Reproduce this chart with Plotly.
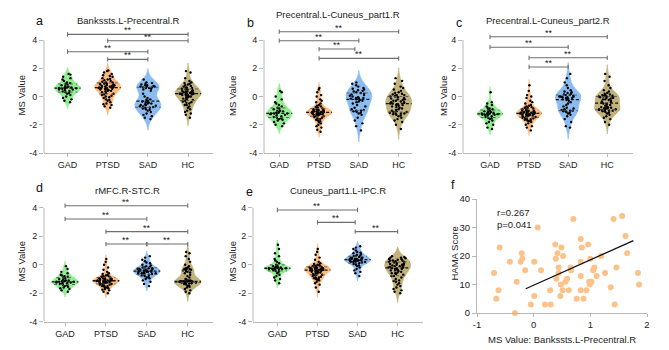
import numpy as np
import plotly.graph_objects as go

W, H = 669, 350
FONT = "Liberation Sans, Arial, sans-serif"

groups = ["GAD", "PTSD", "SAD", "HC"]
group_colors = ["#92EE92", "#FCBA7E", "#8ABCF2", "#C1B37B"]
titles = ["Bankssts.L-Precentral.R", "Precentral.L-Cuneus_part1.R",
          "Precentral.L-Cuneus_part2.R", "rMFC.R-STC.R", "Cuneus_part1.L-IPC.R"]
letters = ["a", "b", "c", "d", "e", "f"]
y_tickvals = [-4, -2, 0, 2, 4]
y_ticktext = ["-4", "-2", "0", "2", "4"]

# ---------------- panel a : Bankssts.L-Precentral.R ----------------
a_gad = [1.6, 1.55, 1.4, 1.3, 1.2, 1.1, 1.0, 0.95, 0.9, 0.85, 0.8, 0.75, 0.7, 0.65, 0.62, 0.6, 0.6,
         0.58, 0.55, 0.5, 0.5, 0.45, 0.4, 0.35, 0.3, 0.25, 0.2, 0.1, 0.0, -0.1, -0.2, -0.3, -0.4, 0.65]
a_ptsd = [1.85, 1.8, 1.7, 1.6, 1.5, 1.45, 1.4, 1.3, 1.25, 1.2, 1.15, 1.1, 1.05, 1.0, 1.0, 0.95, 0.9, 0.9,
          0.85, 0.85, 0.8, 0.8, 0.75, 0.75, 0.7, 0.7, 0.65, 0.65, 0.6, 0.6, 0.55, 0.55, 0.5, 0.5, 0.45, 0.4,
          0.4, 0.35, 0.3, 0.25, 0.2, 0.15, 0.1, 0.05, 0.0, -0.05, -0.1, -0.2, -0.25, -0.3, -0.4, -0.5,
          -0.55, -0.6, -0.7, -0.8, 0.6, 0.7, 0.5, 0.9]
a_sad = [1.2, 1.0, 0.9, 0.85, 0.8, 0.75, 0.7, 0.7, 0.65, 0.6, 0.55, 0.5, 0.4, 0.95, 0.8, 0.7, 0.65, 0.6,
         0.2, 0.0, -0.1, -0.2, -0.25, -0.3, -0.35, -0.4, -0.45, -0.5, -0.5, -0.55, -0.6, -0.6, -0.65,
         -0.7, -0.7, -0.75, -0.8, -0.8, -0.85, -0.9, -0.95, -1.0, -1.1, -1.2, -1.3, -1.4, -1.5, -1.6]
a_hc = [1.8, 1.7, 1.3, 1.1, 1.0, 0.95, 0.9, 0.85, 0.8, 0.75, 0.7, 0.65, 0.6, 0.55, 0.5, 0.5, 0.45, 0.4,
        0.4, 0.35, 0.3, 0.3, 0.25, 0.25, 0.2, 0.2, 0.2, 0.15, 0.15, 0.1, 0.1, 0.05, 0.0, 0.0, -0.05, -0.1,
        -0.15, -0.2, -0.25, -0.3, -0.35, -0.4, -0.45, -0.5, -0.6, -0.7, -0.8, -0.9, -1.0, -1.1, -1.2,
        -1.3, -1.5, 0.2, 0.15, 0.3, 0.6, -0.6]

# ---------------- panel b : Precentral.L-Cuneus_part1.R ----------------
b_gad = [0.4, 0.3, 0.0, -0.2, -0.4, -0.5, -0.6, -0.7, -0.8, -0.85, -0.9, -1.0, -1.05, -1.1, -1.15, -1.2,
         -1.2, -1.2, -1.25, -1.3, -1.35, -1.4, -1.45, -1.5, -1.55, -1.6, -1.65, -1.7, -1.8, -1.9, -2.0,
         -2.1, -1.2, -1.0]
b_ptsd = [0.6, 0.5, 0.3, 0.1, 0.0, -0.2, -0.3, -0.4, -0.5, -0.6, -0.65, -0.7, -0.75, -0.8, -0.85, -0.9,
          -0.9, -0.95, -1.0, -1.0, -1.05, -1.05, -1.1, -1.1, -1.1, -1.15, -1.15, -1.2, -1.2, -1.2, -1.25,
          -1.25, -1.3, -1.3, -1.35, -1.4, -1.4, -1.45, -1.5, -1.55, -1.6, -1.65, -1.7, -1.75, -1.8, -1.9,
          -2.0, -2.1, -2.2, -2.35, -2.5, -1.1, -1.2, -1.0, -0.95, -1.3, -1.15, -1.05, -1.25, -0.85]
b_sad = [1.0, 0.9, 0.8, 0.7, 0.6, 0.55, 0.5, 0.45, 0.4, 0.35, 0.3, 0.25, 0.2, 0.15, 0.1, 0.05, 0.0, -0.05,
         -0.1, -0.1, -0.15, -0.2, -0.25, -0.3, -0.35, -0.4, -0.5, -0.6, -0.7, -0.8, -0.9, -0.95, -1.0,
         -1.0, -1.05, -1.1, -1.15, -1.2, -1.3, -1.5, -1.7, -1.9, -2.1, -2.4, -0.1]
b_hc = [1.3, 1.1, 0.9, 0.7, 0.6, 0.5, 0.4, 0.3, 0.25, 0.2, 0.15, 0.1, 0.05, 0.0, 0.0, -0.05, -0.1, -0.15,
        -0.2, -0.25, -0.3, -0.3, -0.35, -0.4, -0.45, -0.5, -0.5, -0.55, -0.6, -0.65, -0.7, -0.75, -0.8,
        -0.85, -0.9, -0.95, -1.0, -1.05, -1.1, -1.1, -1.15, -1.2, -1.2, -1.25, -1.3, -1.35, -1.4, -1.5,
        -1.6, -1.7, -1.8, -2.0, -2.3, -0.2, -0.4, 0.1, -1.2, -0.6]

# ---------------- panel c : Precentral.L-Cuneus_part2.R ----------------
c_gad = [0.3, -0.4, -0.5, -0.6, -0.7, -0.8, -0.85, -0.9, -0.95, -1.0, -1.05, -1.1, -1.15, -1.2, -1.2,
         -1.25, -1.25, -1.3, -1.3, -1.35, -1.4, -1.45, -1.5, -1.55, -1.6, -1.7, -1.8, -1.9, -2.0, -2.2,
         -2.3, -1.2, -1.1, -1.3]
c_ptsd = [0.8, 0.4, 0.1, 0.0, -0.1, -0.3, -0.4, -0.5, -0.6, -0.65, -0.7, -0.75, -0.8, -0.85, -0.9, -0.95,
          -1.0, -1.0, -1.05, -1.1, -1.1, -1.15, -1.15, -1.2, -1.2, -1.2, -1.25, -1.25, -1.3, -1.3, -1.35,
          -1.4, -1.4, -1.45, -1.5, -1.5, -1.55, -1.6, -1.65, -1.7, -1.75, -1.8, -1.9, -2.0, -2.1, -2.2,
          -2.4, -1.2, -1.1, -1.3, -1.0, -0.9, -1.4, -1.6, -0.8, -1.25, -1.15, -1.05, -1.35, -1.7]
c_sad = [1.6, 1.3, 1.0, 0.8, 0.6, 0.45, 0.35, 0.3, 0.25, 0.2, 0.15, 0.1, 0.05, 0.0, 0.0, -0.05, -0.1,
         -0.1, -0.15, -0.2, -0.25, -0.3, -0.4, -0.5, -0.6, -0.7, -0.8, -0.85, -0.9, -0.95, -1.0, -1.0,
         -1.05, -1.1, -1.15, -1.2, -1.3, -1.4, -1.6, -1.8, -2.1, -2.2, 0.0, -0.05, -1.0, 0.1]
c_hc = [1.6, 1.4, 1.1, 0.8, 0.6, 0.45, 0.35, 0.25, 0.2, 0.15, 0.1, 0.05, 0.0, 0.0, -0.05, -0.1, -0.1,
        -0.15, -0.2, -0.25, -0.3, -0.35, -0.4, -0.45, -0.5, -0.55, -0.6, -0.65, -0.7, -0.75, -0.8, -0.8,
        -0.85, -0.9, -0.9, -0.95, -1.0, -1.0, -1.05, -1.1, -1.15, -1.2, -1.3, -1.4, -1.5, -1.6, -1.8,
        -2.0, 0.0, -0.05, -0.9, -0.85, 0.1, -0.95, -1.0, 0.05, -0.8, -0.2]

# ---------------- panel d : rMFC.R-STC.R ----------------
d_gad = [-0.1, -0.3, -0.5, -0.6, -0.7, -0.75, -0.8, -0.85, -0.9, -0.95, -1.0, -1.05, -1.1, -1.1, -1.15,
         -1.2, -1.2, -1.2, -1.25, -1.25, -1.3, -1.3, -1.35, -1.4, -1.45, -1.5, -1.55, -1.6, -1.65, -1.7,
         -1.8, -1.9, -1.2, -1.15]
d_ptsd = [0.4, 0.2, 0.0, -0.2, -0.35, -0.5, -0.6, -0.65, -0.7, -0.75, -0.8, -0.85, -0.9, -0.9, -0.95,
          -0.95, -1.0, -1.0, -1.0, -1.05, -1.05, -1.1, -1.1, -1.1, -1.1, -1.15, -1.15, -1.15, -1.2, -1.2,
          -1.2, -1.25, -1.25, -1.3, -1.3, -1.35, -1.35, -1.4, -1.45, -1.5, -1.5, -1.55, -1.6, -1.65,
          -1.7, -1.75, -1.8, -1.9, -2.0, -1.1, -1.0, -1.2, -1.05, -1.15, -0.9, -1.3, -1.4, -1.6, -0.8,
          -1.25]
d_sad = [0.6, 0.5, 0.35, 0.25, 0.15, 0.1, 0.0, -0.05, -0.1, -0.15, -0.2, -0.25, -0.25, -0.3, -0.3, -0.35,
         -0.35, -0.4, -0.4, -0.45, -0.45, -0.5, -0.5, -0.55, -0.55, -0.6, -0.6, -0.65, -0.65, -0.7, -0.7,
         -0.75, -0.8, -0.85, -0.9, -0.95, -1.0, -1.1, -1.2, -1.35, -1.5, -0.4, -0.5, -0.3, -0.6, -0.2]
d_hc = [0.9, 0.8, 0.6, 0.4, 0.2, 0.0, -0.1, -0.2, -0.25, -0.3, -0.3, -0.35, -0.4, -0.45, -0.5, -0.55,
        -0.6, -0.7, -0.8, -0.9, -1.0, -1.05, -1.1, -1.15, -1.15, -1.2, -1.2, -1.2, -1.2, -1.2, -1.2, -1.2,
        -1.2, -1.2, -1.2, -1.25, -1.25, -1.25, -1.3, -1.3, -1.35, -1.4, -1.45, -1.5, -1.55, -1.6, -1.7,
        -1.8, -1.9, -2.0, -1.2, -1.2, -1.15, -1.25, -0.3, -0.35, -1.1, -1.3]

# ---------------- panel e : Cuneus_part1.L-IPC.R ----------------
e_gad = [1.4, 1.1, 0.8, 0.6, 0.4, 0.3, 0.2, 0.1, 0.0, -0.05, -0.1, -0.15, -0.2, -0.2, -0.25, -0.25,
         -0.25, -0.3, -0.3, -0.3, -0.35, -0.35, -0.4, -0.45, -0.5, -0.6, -0.7, -0.8, -0.9, -1.0, -1.1,
         -1.3, -0.25, -0.2]
e_ptsd = [1.1, 0.9, 0.7, 0.5, 0.35, 0.2, 0.1, 0.05, 0.0, -0.05, -0.1, -0.1, -0.15, -0.15, -0.2, -0.2,
          -0.25, -0.25, -0.3, -0.3, -0.3, -0.35, -0.35, -0.35, -0.4, -0.4, -0.45, -0.45, -0.5, -0.5,
          -0.55, -0.6, -0.65, -0.7, -0.75, -0.8, -0.85, -0.9, -0.95, -1.0, -1.05, -1.1, -1.2, -1.3, -1.4,
          -1.6, -1.9, -0.3, -0.25, -0.4, -0.2, -0.35, -0.5, -0.6, 0.0, -0.1, -0.45, -0.7, -0.9, -1.0]
e_sad = [1.3, 1.2, 1.1, 1.0, 0.9, 0.85, 0.8, 0.75, 0.7, 0.65, 0.6, 0.55, 0.5, 0.5, 0.45, 0.45, 0.4, 0.4,
         0.35, 0.35, 0.3, 0.3, 0.3, 0.25, 0.25, 0.2, 0.2, 0.15, 0.1, 0.05, 0.0, -0.05, -0.1, -0.2, -0.3,
         -0.4, -0.5, -0.6, -0.8, 0.3, 0.35, 0.4, 0.2, 0.5, 0.6, 0.1]
e_hc = [0.6, 0.55, 0.5, 0.45, 0.4, 0.35, 0.3, 0.3, 0.25, 0.2, 0.2, 0.15, 0.1, 0.1, 0.05, 0.0, 0.0, -0.05,
        -0.1, -0.1, -0.15, -0.2, -0.2, -0.25, -0.3, -0.3, -0.35, -0.4, -0.4, -0.45, -0.5, -0.55, -0.6,
        -0.65, -0.7, -0.8, -0.9, -1.0, -1.1, -1.2, -1.3, -1.4, -1.5, -1.6, -1.7, -1.8, -1.9, -2.0, 0.4,
        0.2, 0.0, -0.1, -0.3, 0.3, -0.6, -0.8, 0.5, -1.15]

# significance brackets: (from group, to group, height)
brackets_a = [(0, 3, 4.40), (1, 3, 3.95), (0, 2, 3.17), (1, 2, 2.63)]
brackets_b = [(0, 3, 4.59), (0, 2, 3.95), (1, 1.9, 3.36), (1, 3, 2.70)]
brackets_c = [(0, 3, 4.23), (0, 2, 3.49), (1, 3, 2.74), (1, 2, 2.09)]
brackets_d = [(0, 3, 4.14), (0, 2, 3.21), (1, 3, 2.32), (1, 2, 1.45), (2, 3, 1.45)]
brackets_e = [(0, 2, 3.84), (1, 1.94, 2.97), (1.94, 3, 2.32)]
sig_label = "**"

# ---------------- panel f : correlation ----------------
hama_x = [-0.70, -0.66, -0.62, -0.60, -0.42, -0.33, -0.30, -0.23, -0.21, -0.20, -0.15, -0.05, 0.01, 0.01,
          0.07, 0.13, 0.20, 0.29, 0.30, 0.38, 0.39, 0.40, 0.42, 0.44, 0.44, 0.47, 0.48, 0.49, 0.51, 0.52,
          0.56, 0.59, 0.65, 0.66, 0.62, 0.70, 0.76, 0.83, 0.83, 0.85, 0.83, 0.83, 0.88, 0.93, 0.96, 0.98,
          0.99, 1.02, 1.00, 1.05, 1.07, 1.11, 1.19, 1.26, 1.36, 1.41, 1.43, 1.46, 1.56, 1.62, 1.65, 1.84,
          1.86]
hama_y = [14, 5, 8, 23, 18, 0, 11, 18, 21, 19, 15, 3, 6, 18, 30, 15, 3, 8, 3, 24, 19, 12, 21, 16, 14, 6,
          10, 23, 8, 20, 11, 12, 16, 15, 8, 33, 5, 18, 26, 23, 13, 8, 5, 8, 24, 11, 10, 11, 19, 15, 16, 13,
          20, 14, 9, 33, 3, 16, 34, 27, 21, 14, 10]
fit_x = [-0.14, 1.76]
fit_y = [8.5, 25.4]
stat_text = "r=0.267<br>p=0.041"
f_xticks = [-1, 0, 1, 2]
f_xticktext = ["-1", "0", "1", "2"]
f_yticks = [0, 10, 20, 30, 40]

panel_data = [[a_gad, a_ptsd, a_sad, a_hc], [b_gad, b_ptsd, b_sad, b_hc],
              [c_gad, c_ptsd, c_sad, c_hc], [d_gad, d_ptsd, d_sad, d_hc],
              [e_gad, e_ptsd, e_sad, e_hc]]
panel_brackets = [brackets_a, brackets_b, brackets_c, brackets_d, brackets_e]

# ---------------- geometry (pixels) ----------------
geo = [
    dict(px=(44, 213), py=(27.3, 153.0), xr=(-0.585, 3.62)),
    dict(px=(264, 412), py=(27.3, 153.0), xr=(-0.384, 3.335)),
    dict(px=(463, 633), py=(27.3, 153.0), xr=(-0.69, 3.658)),
    dict(px=(44, 213), py=(194.9, 321.7), xr=(-0.515, 3.617)),
    dict(px=(253, 423), py=(194.9, 321.7), xr=(-0.608, 3.632)),
]
geo_f = dict(px=(477, 647), py=(199, 313))
title_pos = [(128, 20.5), (338, 15), (548, 20.5), (127, 190.5), (338, 190.5)]
letter_pos = [(39, 21), (250, 23), (459, 23), (39, 188), (249, 192), (453, 185)]
ylabel_pos = [(21.5, 96), (233, 96), (444, 96), (20.5, 262), (231.5, 262)]

VW = 0.65
AX = "#B8B8B8"
TXT = "#222222"


def xdom(p):
    return [p[0] / W, p[1] / W]


def ydom(p):
    return [1 - p[1] / H, 1 - p[0] / H]


def silverman(v):
    v = np.asarray(v, float)
    q1, q3 = np.percentile(v, [25, 75])
    a = min(v.std(ddof=1), (q3 - q1) / 1.349)
    if a <= 0:
        a = v.std(ddof=1)
    return 1.059 * a * len(v) ** -0.2


def kde(v, bw, t):
    v = np.asarray(v, float)
    t = np.atleast_1d(np.asarray(t, float))
    return np.exp(-0.5 * ((t[:, None] - v[None, :]) / bw) ** 2).sum(axis=1)


fig = go.Figure()
layout = dict(template="none", width=W, height=H, margin=dict(l=0, r=0, t=0, b=0, pad=0),
              autosize=False, paper_bgcolor="white", plot_bgcolor="white", showlegend=False,
              violinmode="overlay", font=dict(family=FONT, color=TXT))
annotations = []
shapes = []

for k in range(5):
    n = k + 1
    xa = "x" if n == 1 else f"x{n}"
    ya = "y" if n == 1 else f"y{n}"
    g = geo[k]
    med_x, med_y, q_x, q_y = [], [], [], []
    for gi, vals in enumerate(panel_data[k]):
        bw = silverman(vals)
        fig.add_trace(go.Violin(
            x=[gi] * len(vals), y=vals, xaxis=xa, yaxis=ya, width=VW, bandwidth=bw,
            fillcolor=group_colors[gi], line=dict(color=group_colors[gi], width=0.6), opacity=1,
            points="all", pointpos=0, jitter=0.75,
            marker=dict(color="black", size=2.4), hoverinfo="skip"))
        v = np.asarray(vals, float)
        grid = np.linspace(v.min() - 2 * bw, v.max() + 2 * bw, 600)
        dmax = kde(v, bw, grid).max()
        q1, q2, q3 = np.percentile(v, [25, 50, 75])
        for q, lx, ly in ((q2, med_x, med_y), (q1, q_x, q_y), (q3, q_x, q_y)):
            hw = VW / 2 * kde(v, bw, q)[0] / dmax
            lx += [gi - hw, gi + hw, None]
            ly += [q, q, None]
    fig.add_trace(go.Scatter(x=q_x, y=q_y, xaxis=xa, yaxis=ya, mode="lines",
                             line=dict(color="#555555", width=0.9, dash="dot"), hoverinfo="skip"))
    fig.add_trace(go.Scatter(x=med_x, y=med_y, xaxis=xa, yaxis=ya, mode="lines",
                             line=dict(color="#111111", width=1.3, dash="3px,2px"), hoverinfo="skip"))
    # brackets
    bx, by = [], []
    tk = 0.15
    for (i, j, h) in panel_brackets[k]:
        bx += [i, i, None, i, j, None, j, j, None]
        by += [h - tk, h + tk, None, h, h, None, h - tk, h + tk, None]
        annotations.append(dict(x=(i + j) / 2, y=h, xref=xa, yref=ya, text=sig_label, showarrow=False,
                                xanchor="center", yanchor="bottom", yshift=-3,
                                font=dict(size=9, color=TXT)))
    fig.add_trace(go.Scatter(x=bx, y=by, xaxis=xa, yaxis=ya, mode="lines",
                             line=dict(color="#6E6E6E", width=1.1), hoverinfo="skip"))

    layout["xaxis" if n == 1 else f"xaxis{n}"] = dict(
        domain=xdom(g["px"]), range=list(g["xr"]), anchor=ya, showline=True, linecolor=AX,
        linewidth=1, ticks="outside", ticklen=3, tickcolor=AX, tickvals=[0, 1, 2, 3],
        ticktext=groups, tickfont=dict(size=9, color=TXT), showgrid=False, zeroline=False,
        automargin=False)
    layout["yaxis" if n == 1 else f"yaxis{n}"] = dict(
        domain=ydom(g["py"]), range=[-4, 4.9], anchor=xa, showline=False, ticks="outside",
        ticklen=4, tickcolor=AX, tickvals=y_tickvals, ticktext=y_ticktext,
        tickfont=dict(size=9, color=TXT), showgrid=False, zeroline=False, automargin=False)
    shapes.append(dict(type="line", xref="paper", yref=ya, x0=g["px"][0] / W, x1=g["px"][0] / W,
                       y0=-4, y1=4, line=dict(color=AX, width=1)))
    tx, ty = title_pos[k]
    annotations.append(dict(x=tx / W, y=1 - ty / H, xref="paper", yref="paper", text=titles[k],
                            showarrow=False, xanchor="center", yanchor="middle",
                            font=dict(size=9.5, color=TXT)))
    lx, ly = ylabel_pos[k]
    annotations.append(dict(x=lx / W, y=1 - ly / H, xref="paper", yref="paper", text="MS Value",
                            showarrow=False, textangle=-90, xanchor="center", yanchor="middle",
                            font=dict(size=9.5, color=TXT)))

# panel f
fig.add_trace(go.Scatter(x=hama_x, y=hama_y, xaxis="x6", yaxis="y6", mode="markers",
                         marker=dict(color="#FBC28A", size=6), cliponaxis=False, hoverinfo="skip"))
fig.add_trace(go.Scatter(x=fit_x, y=fit_y, xaxis="x6", yaxis="y6", mode="lines",
                         line=dict(color="#111111", width=1.3), hoverinfo="skip"))
layout["xaxis6"] = dict(domain=xdom(geo_f["px"]), range=[-1, 2], anchor="y6", showline=True,
                        linecolor=AX, ticks="outside", ticklen=3, tickcolor=AX, tickvals=f_xticks,
                        ticktext=f_xticktext, tickfont=dict(size=9.5, color=TXT), showgrid=False,
                        zeroline=False, automargin=False)
layout["yaxis6"] = dict(domain=ydom(geo_f["py"]), range=[0, 40], anchor="x6", showline=True,
                        linecolor=AX, ticks="outside", ticklen=4, tickcolor=AX, tickvals=f_yticks,
                        tickfont=dict(size=9.5, color=TXT), showgrid=False, zeroline=False,
                        automargin=False)
annotations.append(dict(x=-0.68, y=33, xref="x6", yref="y6", text=stat_text, showarrow=False,
                        xanchor="left", yanchor="middle", align="left",
                        font=dict(size=9.5, color=TXT)))
annotations.append(dict(x=562 / W, y=1 - 339 / H, xref="paper", yref="paper",
                        text="MS Value: Bankssts.L-Precentral.R", showarrow=False,
                        xanchor="center", yanchor="middle", font=dict(size=9.5, color=TXT)))
annotations.append(dict(x=453.5 / W, y=1 - 254 / H, xref="paper", yref="paper", text="HAMA Score",
                        showarrow=False, textangle=-90, xanchor="center", yanchor="middle",
                        font=dict(size=9.5, color=TXT)))

for k, (lx, ly) in enumerate(letter_pos):
    annotations.append(dict(x=lx / W, y=1 - ly / H, xref="paper", yref="paper", text=letters[k],
                            showarrow=False, xanchor="center", yanchor="middle",
                            font=dict(size=12.5, color="#111111")))

layout["annotations"] = annotations
layout["shapes"] = shapes
fig.update_layout(**layout)
fig.write_html("out.html", config={"displayModeBar": False, "staticPlot": True},
               post_script="document.body.style.margin='0px';")
